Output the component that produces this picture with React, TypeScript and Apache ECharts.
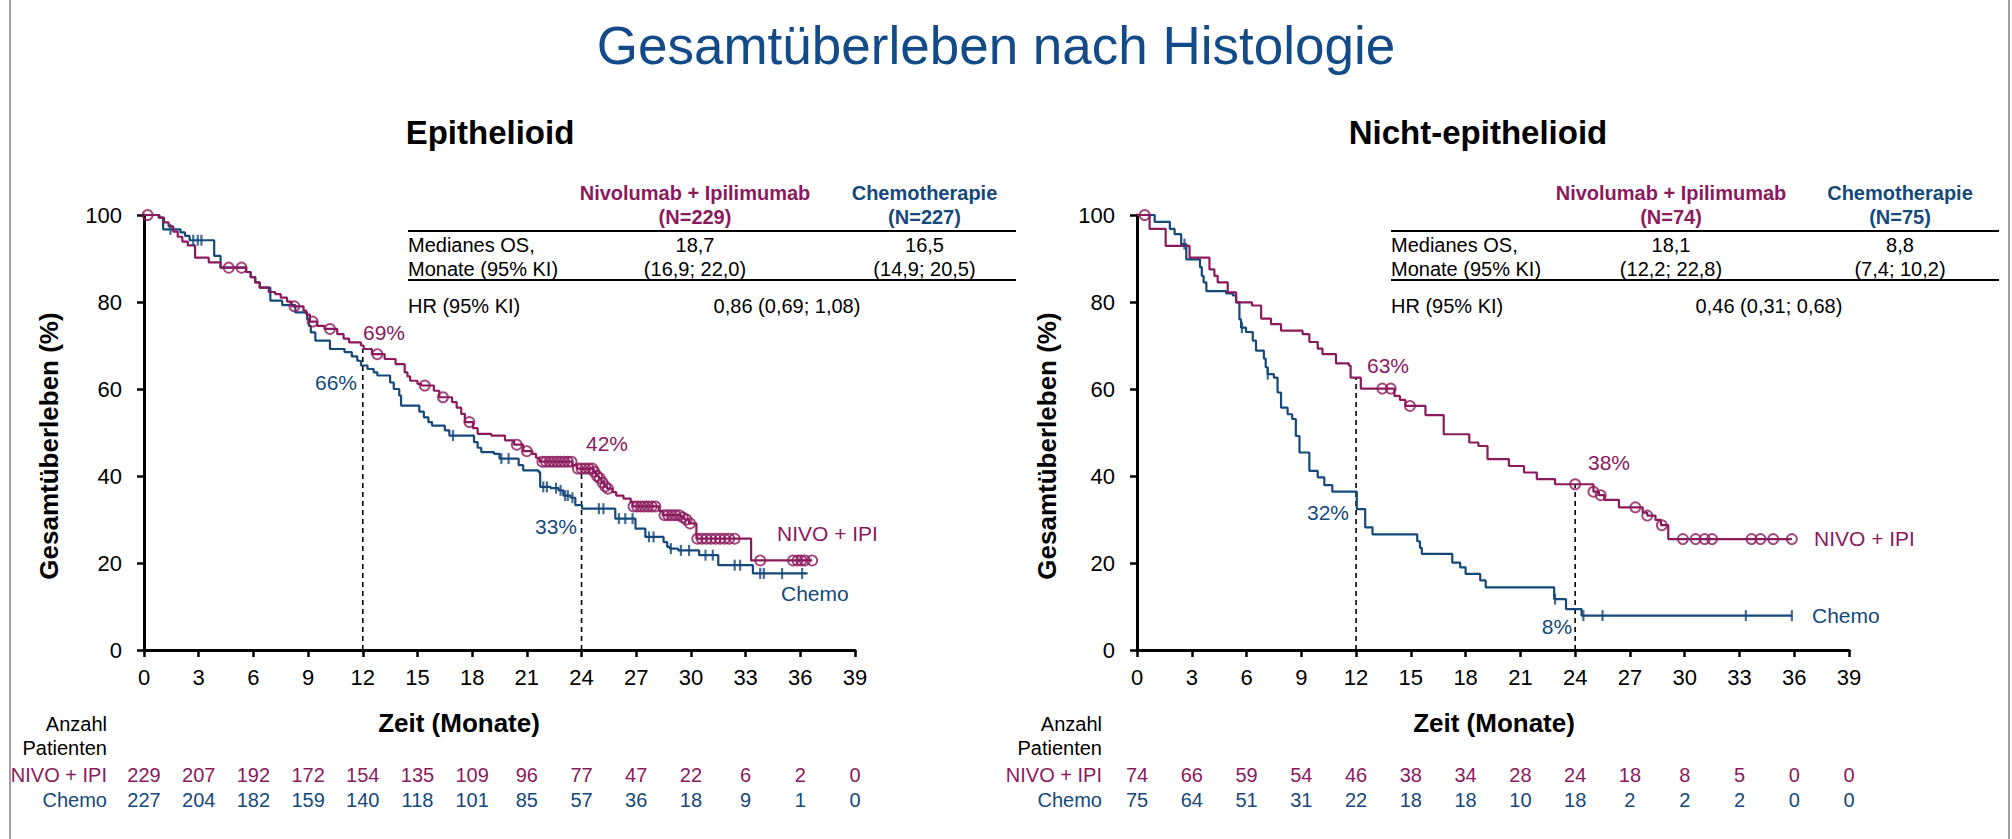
import React, { useEffect, useRef } from "react";
import * as echarts from "echarts";

const NIVO = "#8B1A5C";
const CHEMO = "#15497A";
const TITLE = "#124B87";
const FONT = "'Liberation Sans', Arial, sans-serif";

const xTicks = [0, 3, 6, 9, 12, 15, 18, 21, 24, 27, 30, 33, 36, 39];

const epiRiskNivo = [229, 207, 192, 172, 154, 135, 109, 96, 77, 47, 22, 6, 2, 0];
const epiRiskChemo = [227, 204, 182, 159, 140, 118, 101, 85, 57, 36, 18, 9, 1, 0];
const nonRiskNivo = [74, 66, 59, 54, 46, 38, 34, 28, 24, 18, 8, 5, 0, 0];
const nonRiskChemo = [75, 64, 51, 31, 22, 18, 18, 10, 18, 2, 2, 2, 0, 0];

const epiNivoCurve = [
  [0, 100], [0.85, 99.4], [1.1, 98.3], [1.35, 97.4], [1.6, 96.2], [1.85, 95.0], [2.1, 93.9], [2.4, 93.0],
  [2.8, 90.2], [3.55, 89.1], [4.2, 87.9], [5.6, 86.9], [5.85, 85.7], [6.1, 84.5], [6.35, 83.3], [6.84, 82.3],
  [7.2, 81.8], [7.5, 81.0], [7.85, 80.1], [8.1, 79.0], [8.75, 78.0], [8.9, 77.1], [9.1, 75.5], [9.5, 74.5],
  [9.9, 73.8], [10.6, 72.6], [10.95, 71.6], [11.25, 70.7], [11.9, 70.0], [12.05, 69.2], [12.5, 68.0],
  [13.2, 66.9], [13.8, 65.7], [14.3, 63.8], [14.45, 62.9], [14.6, 61.9], [15.0, 61.2], [15.2, 60.8],
  [15.9, 59.6], [16.2, 58.1], [16.9, 57.0], [17.15, 55.7], [17.4, 54.3], [17.6, 52.4], [18.05, 51.0],
  [18.3, 49.7], [19.05, 49.3], [19.8, 48.2], [20.3, 47.2], [20.8, 45.7], [21.3, 45.1], [21.5, 44.2],
  [21.7, 43.3], [23.5, 42.5], [23.75, 41.7], [24.65, 41.0], [24.8, 40.0], [24.95, 39.5], [25.1, 38.5],
  [25.25, 37.6], [25.4, 37.1], [25.7, 36.3], [25.9, 35.5], [26.3, 34.8], [26.7, 34.0], [26.8, 33.0],
  [28.25, 32.0], [28.45, 31.0], [29.45, 30.5], [29.65, 30.0], [29.9, 29.1], [30.3, 25.6], [33.3, 20.6],
  [36.65, 20.6],
];
const epiNivoCensor = [
  [0.2, 100], [4.65, 87.9], [5.35, 87.9], [8.25, 79.0], [9.25, 75.5], [10.2, 73.8], [12.8, 68.0], [15.4, 60.8],
  [16.4, 58.1], [17.85, 52.4], [20.45, 47.2], [21.0, 45.7], [21.85, 43.3], [22.05, 43.3], [22.25, 43.3],
  [22.45, 43.3], [22.65, 43.3], [22.85, 43.3], [23.05, 43.3], [23.25, 43.3], [23.45, 43.3], [23.8, 41.7],
  [24.0, 41.7], [24.2, 41.7], [24.4, 41.7], [24.6, 41.7], [24.7, 41.0], [24.85, 40.0], [25.0, 39.5],
  [25.15, 38.5], [25.3, 37.6], [25.45, 37.1], [26.85, 33.0], [27.05, 33.0], [27.25, 33.0], [27.45, 33.0],
  [27.65, 33.0], [27.85, 33.0], [28.05, 33.0], [28.55, 31.0], [28.75, 31.0], [28.95, 31.0], [29.15, 31.0],
  [29.35, 31.0], [29.55, 30.5], [29.75, 30.0], [29.95, 29.1], [30.35, 25.6], [30.6, 25.6], [30.85, 25.6],
  [31.1, 25.6], [31.35, 25.6], [31.6, 25.6], [31.85, 25.6], [32.1, 25.6], [32.4, 25.6], [33.8, 20.6],
  [35.6, 20.6], [35.85, 20.6], [36.05, 20.6], [36.25, 20.6], [36.65, 20.6],
];

const epiChemoCurve = [
  [0, 100], [0.8, 99.4], [1.05, 96.7], [2.0, 96.0], [2.25, 95.2], [2.5, 94.2], [3.85, 90.6], [4.2, 87.9],
  [5.6, 86.9], [5.85, 85.7], [6.1, 84.5], [6.35, 83.3], [6.93, 80.3], [7.58, 79.3], [8.3, 77.6], [8.95, 76.0],
  [9.05, 74.5], [9.15, 73.0], [9.4, 71.1], [10.2, 69.2], [11.0, 68.5], [11.4, 67.5], [11.7, 66.5], [11.9, 65.4],
  [12.26, 64.6], [12.6, 63.8], [12.8, 63.1], [13.5, 61.5], [13.7, 60.0], [14.0, 58.5], [14.1, 56.2],
  [15.1, 54.8], [15.35, 53.5], [15.6, 52.4], [15.8, 51.6], [16.5, 50.5], [16.75, 49.3], [18.1, 47.8],
  [18.3, 46.5], [18.5, 45.5], [19.2, 45.1], [19.5, 44.0], [20.55, 42.5], [20.8, 41.3], [21.64, 40.9],
  [21.73, 37.5], [22.3, 37.2], [22.74, 36.7], [23.0, 35.5], [23.4, 35.0], [23.66, 33.3], [24.03, 32.5],
  [25.85, 30.2], [26.96, 27.9], [27.5, 26.0], [28.5, 24.8], [28.7, 23.7], [28.85, 23.3], [29.3, 22.9],
  [30.45, 21.8], [31.5, 19.5], [33.4, 17.6], [36.4, 17.6],
];
const epiChemoCensor = [
  [1.45, 96.7], [2.7, 94.2], [2.95, 94.2], [3.15, 94.2], [16.95, 49.3], [19.6, 44.0], [20.0, 44.0],
  [21.9, 37.5], [22.1, 37.5], [22.6, 37.2], [22.85, 36.7], [23.1, 35.5], [23.25, 35.5], [23.5, 35.0],
  [24.95, 32.5], [25.2, 32.5], [26.05, 30.2], [26.4, 30.2], [26.8, 30.2], [27.7, 26.0], [27.95, 26.0],
  [28.9, 23.3], [29.45, 22.9], [29.9, 22.9], [30.8, 21.8], [31.2, 21.8], [32.4, 19.5], [32.7, 19.5],
  [33.8, 17.6], [34.0, 17.6], [35.0, 17.6], [36.1, 17.6],
];

const nonNivoCurve = [
  [0, 100], [0.69, 96.8], [1.57, 92.9], [2.88, 90.2], [3.97, 87.5], [4.24, 86.0], [4.42, 84.5], [4.97, 82.2],
  [5.43, 79.9], [6.3, 79.2], [6.8, 76.2], [7.34, 74.9], [7.89, 73.4], [9.07, 72.6], [9.44, 70.8], [9.9, 69.3],
  [10.16, 68.0], [10.9, 65.9], [11.6, 65.4], [11.7, 62.6], [12.26, 60.1], [14.1, 58.4], [14.4, 57.5],
  [14.7, 56.1], [15.8, 54.0], [16.8, 49.6], [18.2, 47.7], [18.7, 46.9], [19.2, 43.9], [20.37, 42.3],
  [21.2, 40.8], [21.9, 39.3], [22.9, 38.1], [25.0, 36.4], [25.3, 35.6], [25.6, 34.5], [26.4, 32.8],
  [27.7, 31.6], [27.95, 30.9], [28.4, 29.9], [28.7, 28.7], [29.1, 25.5], [35.87, 25.5],
];
const nonNivoCensor = [
  [0.42, 100], [13.44, 60.1], [13.9, 60.1], [14.95, 56.1], [24.0, 38.1], [25.0, 36.4], [25.4, 35.6],
  [27.3, 32.8], [27.95, 30.9], [28.75, 28.7], [29.9, 25.5], [30.6, 25.5], [31.1, 25.5], [31.5, 25.5],
  [33.66, 25.5], [34.15, 25.5], [34.85, 25.5], [35.87, 25.5],
];

const nonChemoCurve = [
  [0, 100], [0.97, 98.4], [1.8, 96.8], [2.06, 95.6], [2.42, 93.3], [2.7, 89.8], [3.45, 88.0], [3.55, 86.0],
  [3.65, 84.5], [3.8, 82.5], [4.88, 82.0], [5.25, 81.5], [5.43, 79.9], [5.61, 76.0], [5.7, 74.1], [5.97, 73.1],
  [6.34, 71.1], [6.52, 68.8], [6.95, 67.0], [7.05, 65.0], [7.16, 63.4], [7.5, 62.6], [7.7, 59.2], [7.89, 55.7],
  [8.25, 54.2], [8.5, 53.1], [8.7, 49.2], [8.9, 45.4], [9.44, 41.2], [9.9, 39.7], [10.26, 37.9], [10.7, 36.4],
  [12.04, 32.4], [12.5, 28.2], [12.9, 26.6], [15.35, 25.0], [15.5, 23.5], [15.6, 22.1], [17.27, 20.1],
  [17.7, 19.0], [18.0, 17.5], [18.8, 16.0], [19.1, 14.4], [22.85, 11.7], [23.5, 9.4], [24.35, 7.9],
  [35.87, 7.9],
];
const nonChemoCensor = [
  [2.6, 93.3], [5.75, 74.1], [7.16, 63.4], [22.9, 11.7], [24.45, 7.9], [25.5, 7.9], [33.35, 7.9], [35.87, 7.9],
];

const epiLandmarks = [[[12, 0], [12, 69.2]], [[24, 0], [24, 41.7]]];
const nonLandmarks = [[[12, 0], [12, 62.6]], [[24, 0], [24, 38.1]]];

const epiTable = { nivoN: "(N=229)", chemoN: "(N=227)", nivoMed: "18,7", nivoCI: "(16,9; 22,0)", chemoMed: "16,5", chemoCI: "(14,9; 20,5)", hr: "0,86 (0,69; 1,08)" };
const nonTable = { nivoN: "(N=74)", chemoN: "(N=75)", nivoMed: "18,1", nivoCI: "(12,2; 22,8)", chemoMed: "8,8", chemoCI: "(7,4; 10,2)", hr: "0,46 (0,31; 0,68)" };

const txt = (text: string, x: number, y: number, o: any = {}) => ({
  type: "text",
  x,
  y,
  rotation: o.rotation || 0,
  silent: true,
  style: {
    text,
    fill: o.color || "#000",
    fontSize: o.size || 20,
    fontWeight: o.bold ? "bold" : "normal",
    fontFamily: FONT,
    align: o.align || "center",
    verticalAlign: "middle",
  },
});
const hline = (x1: number, x2: number, y: number, w = 2, color = "#000") => ({
  type: "line",
  silent: true,
  shape: { x1, y1: y, x2, y2: y },
  style: { stroke: color, lineWidth: w },
});

function tableGraphics(t: any, left: number, right: number, cNivo: number, cChemo: number, cHr: number) {
  return [
    txt("Nivolumab + Ipilimumab", cNivo, 193, { bold: true, color: NIVO }),
    txt(t.nivoN, cNivo, 216.5, { bold: true, color: NIVO }),
    txt("Chemotherapie", cChemo, 193, { bold: true, color: CHEMO }),
    txt(t.chemoN, cChemo, 216.5, { bold: true, color: CHEMO }),
    hline(left, right, 231),
    txt("Medianes OS,", left, 245, { align: "left" }),
    txt("Monate (95% KI)", left, 269, { align: "left" }),
    txt(t.nivoMed, cNivo, 245),
    txt(t.nivoCI, cNivo, 269),
    txt(t.chemoMed, cChemo, 245),
    txt(t.chemoCI, cChemo, 269),
    hline(left, right, 280),
    txt("HR (95% KI)", left, 306, { align: "left" }),
    txt(t.hr, cHr, 306),
  ];
}

function xAxes(gridIndex: number, riskNivo: number[], riskChemo: number[]) {
  const base = { gridIndex, type: "value", min: 0, max: 39, interval: 3, splitLine: { show: false } };
  return [
    {
      ...base,
      position: "bottom",
      axisLine: { show: true, onZero: false, lineStyle: { color: "#000", width: 3 } },
      axisTick: { show: true, inside: false, length: 7, lineStyle: { color: "#000", width: 2.5 } },
      axisLabel: { color: "#000", fontSize: 22, fontFamily: FONT, margin: 16 },
    },
    {
      ...base,
      position: "bottom",
      offset: 107,
      axisLine: { show: false },
      axisTick: { show: false },
      axisLabel: {
        color: NIVO, fontSize: 20, fontFamily: FONT, margin: 8,
        formatter: (v: number) => String(riskNivo[xTicks.indexOf(v)]),
      },
    },
    {
      ...base,
      position: "bottom",
      offset: 132,
      axisLine: { show: false },
      axisTick: { show: false },
      axisLabel: {
        color: CHEMO, fontSize: 20, fontFamily: FONT, margin: 8,
        formatter: (v: number) => String(riskChemo[xTicks.indexOf(v)]),
      },
    },
  ];
}

function yAxis(gridIndex: number) {
  return {
    gridIndex,
    type: "value",
    min: 0,
    max: 100,
    interval: 20,
    splitLine: { show: false },
    axisLine: { show: true, lineStyle: { color: "#000", width: 3 } },
    axisTick: { show: true, inside: false, length: 7, lineStyle: { color: "#000", width: 2.5 } },
    axisLabel: { color: "#000", fontSize: 22, fontFamily: FONT, margin: 22 },
  };
}

function panelSeries(xi: number, yi: number, nivoC: number[][], nivoX: number[][], chemoC: number[][], chemoX: number[][], marks: number[][][]) {
  const s: any[] = [];
  marks.forEach((m) => {
    s.push({
      type: "line", xAxisIndex: xi, yAxisIndex: yi, data: m, showSymbol: false, silent: true,
      lineStyle: { color: "#000", width: 1.6, type: [5, 4] }, z: 1,
    });
  });
  s.push({
    type: "line", xAxisIndex: xi, yAxisIndex: yi, data: chemoC, step: "end", showSymbol: false, silent: true,
    lineStyle: { color: CHEMO, width: 2.2 }, z: 2,
  });
  s.push({
    type: "line", xAxisIndex: xi, yAxisIndex: yi, data: nivoC, step: "end", showSymbol: false, silent: true,
    lineStyle: { color: NIVO, width: 2.2 }, z: 3,
  });
  s.push({
    type: "scatter", xAxisIndex: xi, yAxisIndex: yi, data: chemoX, symbol: "rect", symbolSize: [2.2, 11], silent: true,
    itemStyle: { color: CHEMO }, z: 4,
  });
  s.push({
    type: "scatter", xAxisIndex: xi, yAxisIndex: yi, data: nivoX, symbol: "circle", symbolSize: 10, silent: true,
    itemStyle: { color: "rgba(255,255,255,0)", borderColor: NIVO, borderWidth: 1.9 }, z: 5,
  });
  return s;
}

export default function App() {
  const ref = useRef<HTMLDivElement>(null);
  useEffect(() => {
    if (!ref.current) return;
    const chart = echarts.init(ref.current, undefined, { renderer: "svg" });
    const graphic: any[] = [
      { type: "line", silent: true, shape: { x1: 10, y1: 0, x2: 10, y2: 839 }, style: { stroke: "#A0A0A0", lineWidth: 2 } },
      { type: "line", silent: true, shape: { x1: 2009, y1: 0, x2: 2009, y2: 839 }, style: { stroke: "#A0A0A0", lineWidth: 2 } },
      txt("Gesamtüberleben nach Histologie", 996, 45, { size: 53, color: TITLE }),
      txt("Epithelioid", 490, 132, { size: 33, bold: true }),
      txt("Nicht-epithelioid", 1478, 132, { size: 33, bold: true }),
      txt("Gesamtüberleben (%)", 49, 446, { size: 26, bold: true, rotation: Math.PI / 2 }),
      txt("Gesamtüberleben (%)", 1047, 446, { size: 26, bold: true, rotation: Math.PI / 2 }),
      txt("Zeit (Monate)", 459, 723, { size: 26, bold: true }),
      txt("Zeit (Monate)", 1494, 723, { size: 26, bold: true }),
      txt("Anzahl", 107, 724, { align: "right" }),
      txt("Patienten", 107, 748, { align: "right" }),
      txt("NIVO + IPI", 107, 775, { align: "right", color: NIVO }),
      txt("Chemo", 107, 800, { align: "right", color: CHEMO }),
      txt("Anzahl", 1102, 724, { align: "right" }),
      txt("Patienten", 1102, 748, { align: "right" }),
      txt("NIVO + IPI", 1102, 775, { align: "right", color: NIVO }),
      txt("Chemo", 1102, 800, { align: "right", color: CHEMO }),
      ...tableGraphics(epiTable, 408, 1016, 695, 924.5, 787),
      ...tableGraphics(nonTable, 1391, 1999, 1671, 1900, 1769),
      txt("69%", 384, 332, { size: 21, color: NIVO }),
      txt("66%", 336, 382, { size: 21, color: CHEMO }),
      txt("42%", 607, 443, { size: 21, color: NIVO }),
      txt("33%", 556, 526, { size: 21, color: CHEMO }),
      txt("NIVO + IPI", 777, 533, { size: 21, color: NIVO, align: "left" }),
      txt("Chemo", 781, 593, { size: 21, color: CHEMO, align: "left" }),
      txt("63%", 1388, 365, { size: 21, color: NIVO }),
      txt("32%", 1328, 512, { size: 21, color: CHEMO }),
      txt("38%", 1609, 462, { size: 21, color: NIVO }),
      txt("8%", 1557, 626, { size: 21, color: CHEMO }),
      txt("NIVO + IPI", 1814, 538, { size: 21, color: NIVO, align: "left" }),
      txt("Chemo", 1812, 615, { size: 21, color: CHEMO, align: "left" }),
    ];
    chart.setOption({
      animation: false,
      backgroundColor: "#fff",
      grid: [
        { left: 144, top: 215, width: 711, height: 435 },
        { left: 1137, top: 215, width: 712, height: 435 },
      ],
      xAxis: [...xAxes(0, epiRiskNivo, epiRiskChemo), ...xAxes(1, nonRiskNivo, nonRiskChemo)],
      yAxis: [yAxis(0), yAxis(1)],
      series: [
        ...panelSeries(0, 0, epiNivoCurve, epiNivoCensor, epiChemoCurve, epiChemoCensor, epiLandmarks),
        ...panelSeries(3, 1, nonNivoCurve, nonNivoCensor, nonChemoCurve, nonChemoCensor, nonLandmarks),
      ],
      graphic,
    });
    return () => chart.dispose();
  }, []);
  return (
    <div
      ref={ref}
      style={{ position: "fixed", left: 0, top: 0, width: 2012, height: 839, background: "#fff" }}
    />
  );
}
